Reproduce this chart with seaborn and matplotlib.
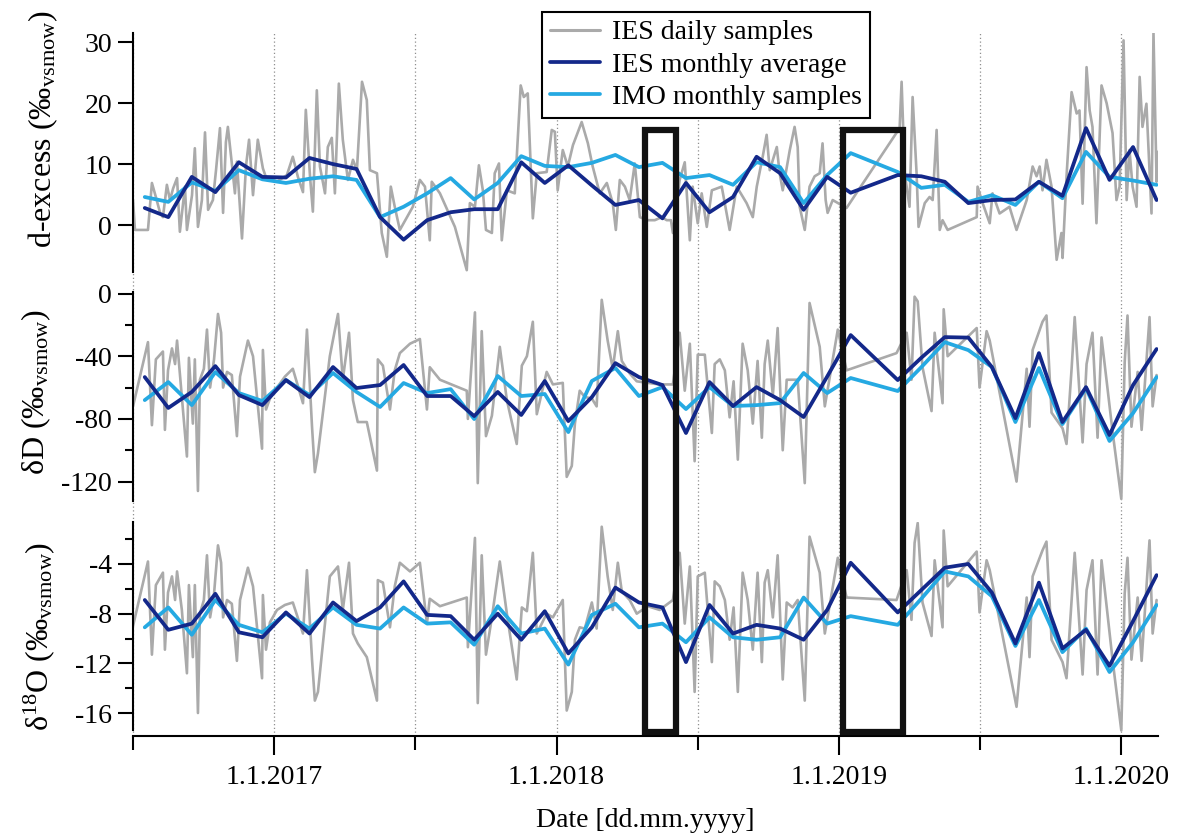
import matplotlib
matplotlib.use("Agg")
import matplotlib.pyplot as plt
import seaborn as sns
from matplotlib.lines import Line2D
from matplotlib.patches import Rectangle
from matplotlib.transforms import blended_transform_factory
from matplotlib.ticker import FixedLocator, NullFormatter

# ---------------- data ----------------
months = ["2016-07", "2016-08", "2016-09", "2016-10", "2016-11", "2016-12",
          "2017-01", "2017-02", "2017-03", "2017-04", "2017-05", "2017-06",
          "2017-07", "2017-08", "2017-09", "2017-10", "2017-11", "2017-12",
          "2018-01", "2018-02", "2018-03", "2018-04", "2018-05", "2018-06",
          "2018-07", "2018-08", "2018-09", "2018-10", "2018-11", "2018-12",
          "2019-01", "2019-03", "2019-04", "2019-05", "2019-06", "2019-07",
          "2019-08", "2019-09", "2019-10", "2019-11", "2019-12", "2020-01", "2020-02"]

ies_dex = [2.8, 1.3, 7.9, 5.4, 10.3, 7.9, 7.8, 11.0, 10.0, 9.2, 1.3, -2.4, 0.8, 2.1, 2.6,
           2.6, 10.3, 6.9, 9.8, 6.5, 3.3, 4.1, 1.1, 6.9, 2.1, 4.6, 11.2, 8.5, 2.5, 7.9,
           5.3, 8.2, 8.0, 7.1, 3.6, 4.1, 4.2, 7.1, 4.8, 15.9, 7.4, 12.8, 4.1]
imo_dex = [4.6, 3.8, 7.0, 5.6, 9.0, 7.5, 6.9, 7.6, 8.0, 7.4, 1.3, 3.0, 5.2, 7.7, 4.2,
           6.9, 11.3, 9.7, 9.5, 10.2, 11.5, 9.5, 10.2, 7.7, 8.2, 6.6, 10.3, 9.5, 3.6, 8.2,
           11.8, 8.7, 6.1, 6.6, 3.8, 4.9, 3.3, 7.1, 4.4, 12.0, 7.9, 7.3, 6.6]
ies_dD = [-53.3, -73, -62.8, -46.3, -64.8, -71.2, -55.2, -66.1, -46.9, -60.3, -58.4, -45.6,
          -65.4, -65.4, -78.2, -62.8, -77.5, -55.8, -81.4, -66.1, -44.4, -53.3, -58.4, -89,
          -56.5, -71.8, -59.7, -68, -78.8, -53, -26.5, -55.2, -41, -27.8, -28.1, -46.9,
          -79.5, -38, -82, -59.7, -90.3, -58.4, -35.4]
imo_dD = [-68, -56.5, -71.2, -50.1, -63.5, -68.6, -55.2, -64.8, -50.7, -62.8, -72.4, -57.1,
          -63.5, -61, -80.1, -52.6, -65.4, -64.1, -88.4, -55.8, -47.5, -65.4, -59.7, -73.7,
          -59.7, -71.8, -71.2, -69.9, -50.7, -63.5, -53.9, -62.2, -47, -31, -36.1, -46.9,
          -82, -47.5, -83.3, -60.3, -94.1, -76.3, -53.3]
ies_d18O = [-6.9, -9.3, -8.8, -6.4, -9.5, -9.9, -7.9, -9.6, -7.1, -8.6, -7.5, -5.4, -8.1,
            -8.2, -10.1, -8.0, -10.1, -7.8, -11.2, -9.1, -5.9, -7.1, -7.5, -11.9, -7.3,
            -9.6, -8.9, -9.2, -10.1, -7.7, -3.9, -7.9, -6.1, -4.3, -4.0, -6.3, -10.4,
            -5.5, -10.8, -9.3, -12.2, -8.6, -4.9]
imo_d18O = [-9.1, -7.5, -9.7, -6.9, -8.9, -9.5, -8.0, -9.2, -7.5, -8.9, -9.2, -7.5, -8.8,
            -8.7, -10.5, -7.4, -9.6, -9.2, -12.1, -8.1, -7.2, -9.1, -8.8, -10.3, -8.3,
            -9.9, -10.1, -9.9, -6.7, -8.8, -8.2, -8.9, -6.8, -4.6, -5.0, -6.6, -10.6,
            -6.9, -11.1, -9.2, -12.7, -10.3, -7.3]

# daily samples (dates as decimal years)
dex_dates = [2016.500, 2016.507, 2016.553, 2016.567, 2016.581, 2016.596, 2016.606, 2016.620, 2016.631, 2016.642,
             2016.656, 2016.666, 2016.684, 2016.691, 2016.709, 2016.719, 2016.730, 2016.744, 2016.755, 2016.766,
             2016.783, 2016.794, 2016.808, 2016.819, 2016.829, 2016.836, 2016.850, 2016.861, 2016.868, 2016.886,
             2016.900, 2016.911, 2016.925, 2016.942, 2016.960, 2016.974, 2016.985, 2017.010, 2017.045, 2017.066,
             2017.084, 2017.102, 2017.112, 2017.127, 2017.137, 2017.151, 2017.162, 2017.180, 2017.190, 2017.204,
             2017.215, 2017.229, 2017.243, 2017.261, 2017.279, 2017.293, 2017.311, 2017.328, 2017.339, 2017.364,
             2017.381, 2017.399, 2017.413, 2017.427, 2017.445, 2017.491, 2017.516, 2017.534, 2017.551, 2017.558,
             2017.587, 2017.640, 2017.682, 2017.693, 2017.711, 2017.725, 2017.739, 2017.750, 2017.771, 2017.781,
             2017.796, 2017.806, 2017.824, 2017.852, 2017.873, 2017.884, 2017.898, 2017.916, 2017.930, 2017.965,
             2017.983, 2017.994, 2018.004, 2018.022, 2018.040, 2018.058, 2018.089, 2018.111, 2018.128, 2018.153,
             2018.178, 2018.199, 2018.210, 2018.224, 2018.242, 2018.259, 2018.277, 2018.295, 2018.320, 2018.348,
             2018.373, 2018.390, 2018.405, 2018.412, 2018.436, 2018.454, 2018.472, 2018.482, 2018.500, 2018.514,
             2018.532, 2018.550, 2018.585, 2018.613, 2018.638, 2018.673, 2018.695, 2018.709, 2018.730, 2018.744,
             2018.755, 2018.780, 2018.790, 2018.801, 2018.826, 2018.843, 2018.854, 2018.861, 2018.879, 2018.896,
             2018.914, 2018.932, 2018.942, 2018.953, 2018.960, 2018.978, 2019.027, 2019.215, 2019.222, 2019.233,
             2019.250, 2019.261, 2019.275, 2019.282, 2019.304, 2019.321, 2019.332, 2019.346, 2019.357, 2019.367,
             2019.385, 2019.488, 2019.491, 2019.509, 2019.534, 2019.544, 2019.569, 2019.604, 2019.629, 2019.665,
             2019.686, 2019.700, 2019.711, 2019.721, 2019.735, 2019.753, 2019.771, 2019.788, 2019.792, 2019.806,
             2019.824, 2019.842, 2019.852, 2019.863, 2019.877, 2019.888, 2019.898, 2019.912, 2019.930, 2019.948,
             2019.969, 2019.983, 2019.994, 2020.008, 2020.019, 2020.029, 2020.040, 2020.054, 2020.065, 2020.075,
             2020.089, 2020.107, 2020.114, 2020.125, 2020.128]
daily_dex = [4.1, -0.8, -0.8, 6.9, 4.6, 2.0, 1.3, 6.6, 4.1, 6.0,
             7.7, -1.1, 6.3, -0.8, 4.9, 12.6, -0.3, 4.1, 15.2, 2.5,
             4.1, 9.0, 15.9, 2.0, 13.6, 16.1, 10.1, 5.2, 10.4, -2.2,
             9.6, 14.0, 4.9, 14.0, 9.3, 7.4, 7.7, 7.1, 8.2, 11.2,
             7.9, 5.4, 18.9, 7.9, 2.2, 22.1, 9.6, 5.2, 12.8, 14.3,
             5.2, 23.2, 14.0, 7.4, 10.7, 9.0, 23.5, 20.5, 9.0, 8.5,
             -1.3, -5.2, 6.3, 3.0, -0.8, 3.0, 7.4, 6.3, -2.5, 7.1,
             5.2, -0.3, -7.4, 3.6, 3.0, 9.8, 5.7, -0.8, -1.3, 8.5,
             10.1, -2.5, 5.7, 5.2, 22.9, 21.0, 21.6, 1.1, 8.5, 8.7,
             15.6, 15.3, 5.7, 12.3, 9.6, 13.1, 16.9, 13.4, 9.6, 5.2,
             6.9, 3.6, -0.8, 7.4, 6.3, 4.1, 10.1, 1.3, 0.8, 0.8,
             1.3, 0.8, 0.8, -1.3, 7.4, 10.3, -2.5, 6.3, 0.3, 5.2,
             -0.3, 5.7, 6.3, -0.8, 6.3, 3.6, 1.3, 6.3, 11.2, 14.8,
             9.0, 12.8, 8.5, 5.7, 12.3, 16.1, 12.8, 3.0, -0.8, 6.3,
             8.0, 8.5, 13.4, 4.1, 2.0, 4.1, 2.8, 15.9, 23.5, 8.5,
             3.0, 21.0, 8.5, -0.3, 3.6, 4.6, 4.1, 15.6, -0.8, 0.8,
             -0.8, 1.3, 6.3, 3.6, 0.3, 5.2, 1.9, 3.0, -0.8, 4.1,
             9.6, 8.0, 9.6, 5.7, 10.7, 6.3, -5.7, -1.3, -5.4, 7.9,
             21.8, 18.3, 18.8, 3.5, 25.9, 18.8, 16.1, 0.3, 22.9, 20.0,
             15.1, 4.1, 6.3, 30.3, 4.1, 12.3, 6.3, 3.0, 24.3, 16.1,
             19.9, 1.9, 31.5, 7.1, 12.0]

iso_dates = [2016.500, 2016.553, 2016.567, 2016.581, 2016.606, 2016.613, 2016.624, 2016.638, 2016.649, 2016.656,
             2016.673, 2016.691, 2016.698, 2016.712, 2016.719, 2016.730, 2016.737, 2016.751, 2016.762, 2016.773,
             2016.787, 2016.801, 2016.812, 2016.819, 2016.833, 2016.850, 2016.868, 2016.879, 2016.907, 2016.925,
             2016.957, 2016.960, 2016.971, 2016.985, 2017.010, 2017.038, 2017.066, 2017.102, 2017.116, 2017.134,
             2017.144, 2017.155, 2017.197, 2017.226, 2017.243, 2017.265, 2017.279, 2017.296, 2017.328, 2017.364,
             2017.367, 2017.385, 2017.410, 2017.427, 2017.445, 2017.481, 2017.516, 2017.541, 2017.551, 2017.587,
             2017.682, 2017.686, 2017.711, 2017.721, 2017.735, 2017.750, 2017.771, 2017.799, 2017.824, 2017.859,
             2017.877, 2017.895, 2017.916, 2017.930, 2017.965, 2017.987, 2018.022, 2018.036, 2018.054, 2018.065,
             2018.082, 2018.100, 2018.125, 2018.142, 2018.160, 2018.181, 2018.199, 2018.217, 2018.231, 2018.259,
             2018.284, 2018.323, 2018.365, 2018.412, 2018.436, 2018.454, 2018.472, 2018.489, 2018.500, 2018.525,
             2018.550, 2018.560, 2018.578, 2018.596, 2018.613, 2018.627, 2018.642, 2018.659, 2018.677, 2018.695,
             2018.712, 2018.727, 2018.737, 2018.748, 2018.766, 2018.783, 2018.801, 2018.815, 2018.836, 2018.854,
             2018.879, 2018.896, 2018.932, 2018.950, 2018.996, 2019.027, 2019.204, 2019.240, 2019.257, 2019.268,
             2019.279, 2019.296, 2019.328, 2019.339, 2019.367, 2019.371, 2019.385, 2019.488, 2019.498, 2019.523,
             2019.534, 2019.629, 2019.665, 2019.675, 2019.686, 2019.721, 2019.735, 2019.753, 2019.792, 2019.806,
             2019.824, 2019.835, 2019.863, 2019.877, 2019.898, 2019.916, 2019.930, 2019.969, 2020.000, 2020.012,
             2020.022, 2020.036, 2020.058, 2020.072, 2020.100, 2020.111, 2020.125]
daily_d18O = [-9.0, -3.8, -11.3, -5.7, -4.7, -10.9, -6.3, -5.0, -6.9, -4.6,
              -7.7, -12.8, -5.7, -11.5, -5.7, -16.0, -8.0, -6.9, -3.3, -8.3,
              -6.4, -2.5, -3.9, -8.3, -6.9, -7.2, -11.8, -6.9, -4.3, -5.8,
              -13.2, -6.5, -10.9, -8.7, -7.7, -7.3, -7.1, -9.6, -4.5, -11.7,
              -15.0, -14.3, -5.0, -4.2, -7.7, -3.9, -9.6, -10.4, -11.5, -15.0,
              -5.3, -5.5, -9.1, -5.8, -3.9, -4.6, -3.9, -8.8, -6.8, -7.4,
              -6.7, -10.7, -1.9, -15.2, -3.3, -11.3, -8.3, -3.8, -8.0, -13.3,
              -7.5, -7.8, -3.1, -9.6, -8.0, -8.3, -6.9, -15.8, -14.3, -10.1,
              -9.1, -9.2, -7.1, -9.2, -1.0, -5.0, -7.7, -3.9, -6.2, -6.9,
              -8.0, -7.4, -7.7, -6.9, -3.1, -8.8, -4.2, -14.3, -5.0, -4.7,
              -11.9, -5.4, -5.8, -6.9, -10.1, -7.5, -14.3, -4.7, -6.9, -10.9,
              -4.7, -11.9, -5.5, -4.5, -8.3, -3.3, -13.3, -7.1, -7.5, -6.9,
              -15.0, -1.8, -4.7, -9.6, -3.5, -6.7, -6.9, -4.5, -8.5, -2.3,
              -0.7, -7.1, -9.8, -3.7, -9.1, -1.3, -5.8, -3.0, -7.9, -3.7,
              -4.5, -15.5, -6.7, -11.5, -5.0, -2.9, -2.2, -10.1, -11.9, -13.2,
              -6.9, -3.1, -12.9, -6.1, -3.7, -12.9, -3.7, -11.7, -17.4, -6.4,
              -3.5, -11.7, -6.7, -11.8, -2.1, -9.6, -6.9]
daily_dD = [-72, -31, -84, -42, -37, -87, -49, -35, -45, -30,
            -66, -104, -41, -83, -42, -126, -55, -48, -23, -60,
            -42, -13, -25, -60, -50, -52, -91, -53, -30, -40,
            -99, -36, -74, -67, -60, -53, -48, -70, -23, -85,
            -114, -102, -40, -13, -55, -25, -68, -82, -82, -113,
            -42, -46, -74, -49, -38, -32, -29, -74, -47, -55,
            -62, -80, -12, -121, -24, -91, -78, -34, -68, -96,
            -46, -40, -18, -77, -50, -58, -57, -117, -110, -83,
            -62, -66, -67, -72, -4, -30, -48, -24, -43, -51,
            -56, -57, -58, -58, -25, -62, -32, -107, -39, -39,
            -89, -45, -42, -49, -79, -56, -106, -32, -49, -83,
            -43, -92, -45, -30, -65, -22, -100, -55, -55, -55,
            -121, -6, -34, -72, -23, -49, -38, -25, -55, -2,
            -5, -47, -75, -25, -70, -10, -40, -22, -60, -24,
            -30, -120, -48, -85, -36, -18, -14, -76, -86, -96,
            -48, -15, -95, -45, -25, -92, -28, -88, -131, -44,
            -14, -85, -50, -87, -15, -72, -52]

highlight_start = [2018.314, 2019.015]
highlight_end = [2018.422, 2019.226]

year_ticks = [2017, 2018, 2019, 2020]
year_labels = ["1.1.2017", "1.1.2018", "1.1.2019", "1.1.2020"]
half_ticks = [2016.5, 2017.5, 2018.5, 2019.5]
legend_labels = ["IES daily samples", "IES monthly average", "IMO monthly samples"]

# ---------------- style ----------------
sns.set_theme(style="white")
plt.rcParams["font.family"] = ["Liberation Serif", "DejaVu Serif"]
plt.rcParams["mathtext.fontset"] = "custom"
plt.rcParams["mathtext.rm"] = "Liberation Serif"
plt.rcParams["mathtext.it"] = "Liberation Serif:italic"
plt.rcParams["mathtext.bf"] = "Liberation Serif:bold"
plt.rcParams["axes.unicode_minus"] = False
for k in ["text.color", "axes.labelcolor", "xtick.color", "ytick.color", "axes.edgecolor"]:
    plt.rcParams[k] = "black"

GRAY = "#aaaaaa"
NAVY = "#13288a"
SKY = "#25a9e2"


def month_to_year(m):
    y, mo = m.split("-")
    return int(y) + (int(mo) - 0.5) / 12.0


monthly_dates = [month_to_year(m) for m in months]

W, H = 1183.0, 834.0
fig = plt.figure(figsize=(11.83, 8.34), dpi=100)
fig.patch.set_facecolor("white")
L = 133 / W
AW = 1025 / W
ax_top = fig.add_axes([L, 1 - 272 / H, AW, 239 / H])
ax_mid = fig.add_axes([L, 1 - 501 / H, AW, 209 / H], sharex=ax_top)
ax_bot = fig.add_axes([L, 1 - 736 / H, AW, 214 / H], sharex=ax_top)

panels = [
    (ax_top, dex_dates, daily_dex, ies_dex, imo_dex),
    (ax_mid, iso_dates, daily_dD, ies_dD, imo_dD),
    (ax_bot, iso_dates, daily_d18O, ies_d18O, imo_d18O),
]
for ax, dd, dv, iv, mv in panels:
    sns.lineplot(x=dd, y=dv, ax=ax, color=GRAY, lw=1.9, estimator=None, sort=False, zorder=2)
    sns.lineplot(x=monthly_dates, y=mv, ax=ax, color=SKY, lw=2.7, estimator=None, sort=False, zorder=3)
    sns.lineplot(x=monthly_dates, y=iv, ax=ax, color=NAVY, lw=2.7, estimator=None, sort=False, zorder=4)
    ax.patch.set_visible(False)
    for s in ["top", "right", "bottom"]:
        ax.spines[s].set_visible(False)
    ax.spines["left"].set_linewidth(1.5)
    ax.spines["left"].set_color("black")
    ax.tick_params(axis="y", which="major", left=True, length=11, width=1.5,
                   labelsize=20, pad=4, direction="out")
    ax.tick_params(axis="y", which="minor", left=True, length=6, width=1.5, direction="out")
    ax.tick_params(axis="x", which="both", bottom=False, labelbottom=False)
    ax.set_xlabel("")

ax_top.set_xlim(2016.5, 2020.13)

ax_top.set_ylim(-7.7, 31.5)
ax_top.yaxis.set_major_locator(FixedLocator([0, 10, 20, 30]))
ax_top.yaxis.set_minor_locator(FixedLocator([]))

ax_mid.set_ylim(-132.4, 1.0)
ax_mid.yaxis.set_major_locator(FixedLocator([-120, -80, -40, 0]))
ax_mid.yaxis.set_minor_locator(FixedLocator([-100, -60, -20]))
ax_mid.yaxis.set_minor_formatter(NullFormatter())

ax_bot.set_ylim(-17.85, -0.62)
ax_bot.yaxis.set_major_locator(FixedLocator([-16, -12, -8, -4]))
ax_bot.yaxis.set_minor_locator(FixedLocator([-14, -10, -6, -2]))
ax_bot.yaxis.set_minor_formatter(NullFormatter())
ax_bot.spines["left"].set_bounds(-17.37, -0.62)

# x axis on bottom panel
ax_bot.spines["bottom"].set_visible(True)
ax_bot.spines["bottom"].set_linewidth(1.5)
ax_bot.spines["bottom"].set_color("black")
ax_bot.xaxis.set_major_locator(FixedLocator(year_ticks))
ax_bot.xaxis.set_minor_locator(FixedLocator(half_ticks))
ax_bot.set_xticks(year_ticks)
ax_bot.set_xticklabels(year_labels)
ax_bot.tick_params(axis="x", which="major", bottom=True, labelbottom=True, length=14,
                   width=1.5, labelsize=20, pad=7, direction="out")
ax_bot.tick_params(axis="x", which="minor", bottom=True, length=10, width=1.5, direction="out")
ax_bot.set_xlabel("Date [dd.mm.yyyy]", fontsize=20, labelpad=13)

# y labels
ax_top.set_ylabel("d-excess (‰$_{\\mathregular{vsmow}}$)", fontsize=23)
ax_top.yaxis.set_label_coords(-0.071, 0.600)
ax_mid.set_ylabel("δD (‰$_{\\mathregular{vsmow}}$)", fontsize=23)
ax_mid.yaxis.set_label_coords(-0.078, 0.522)
ax_bot.set_ylabel("δ$^{\\mathregular{18}}$O (‰$_{\\mathregular{vsmow}}$)", fontsize=23)
ax_bot.yaxis.set_label_coords(-0.074, 0.467)

# vertical dotted reference lines spanning all panels
trans = blended_transform_factory(ax_bot.transData, fig.transFigure)
for g in half_ticks + year_ticks:
    fig.add_artist(Line2D([g, g], [1 - 736 / H, 1 - 33 / H], transform=trans,
                          color="#8f8f8f", lw=0.9, ls=(0, (1, 2)), zorder=-1))

# highlighted periods
for s, e in zip(highlight_start, highlight_end):
    fig.add_artist(Rectangle((s, 1 - 732 / H), e - s, (732 - 129.5) / H, transform=trans,
                             fill=False, ec="#111111", lw=4.5, zorder=6, joinstyle="miter"))

# legend
handles = [Line2D([], [], color=GRAY, lw=2.2),
           Line2D([], [], color=NAVY, lw=2.7),
           Line2D([], [], color=SKY, lw=2.7)]
leg = fig.legend(handles, legend_labels, loc="upper left",
                 bbox_to_anchor=(542 / W, 1 - 12 / H), bbox_transform=fig.transFigure,
                 frameon=True, fancybox=False, framealpha=1, edgecolor="black",
                 fontsize=20, handlelength=1.8, handletextpad=0.45, labelspacing=0.25,
                 borderpad=0.28, borderaxespad=0)
leg.get_frame().set_linewidth(1.5)
leg.set_zorder(10)

fig.savefig("out.png", dpi=100, facecolor="white")
